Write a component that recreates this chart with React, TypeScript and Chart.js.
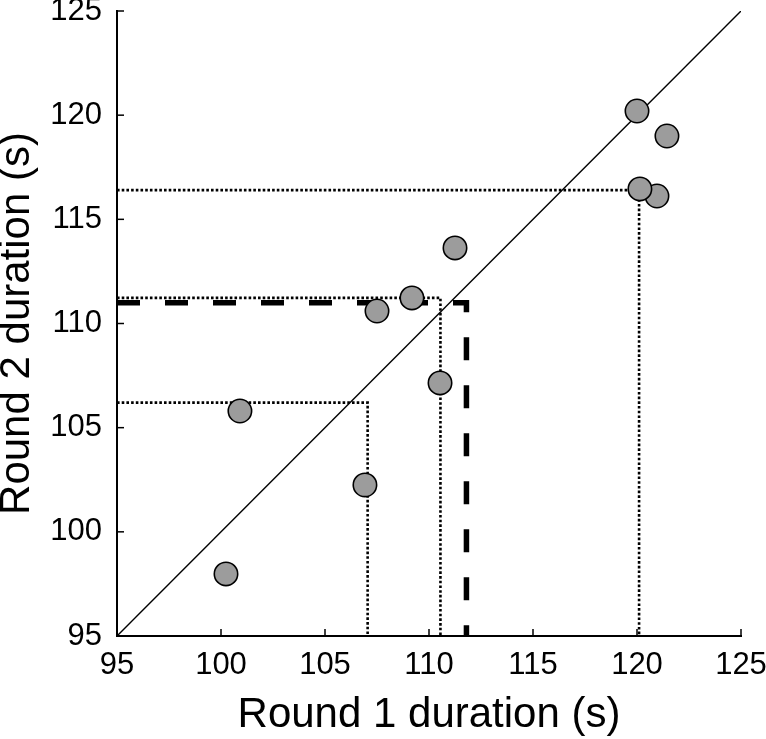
import React, { useEffect, useRef } from "react";
import { Chart, registerables } from "chart.js";

Chart.register(...registerables);

const round1: number[] = [100.24, 100.91, 106.92, 107.5, 109.18, 110.53, 111.25, 120.0, 121.44, 120.96, 120.14];
const round2: number[] = [97.98, 105.8, 102.25, 110.6, 111.23, 107.15, 113.63, 120.2, 119.0, 116.12, 116.46];

const axisMin = 95;
const axisMax = 125;
const tickStep = 5;

const identityX = [95, 125];
const identityY = [95, 125];

const dot1X = [95, 107.05, 107.05];
const dot1Y = [106.2, 106.2, 95];
const dot2X = [95, 110.55, 110.55];
const dot2Y = [111.23, 111.23, 95];
const dot3X = [95, 120.1, 120.1];
const dot3Y = [116.4, 116.4, 95];
const meanX = [95, 111.8, 111.8];
const meanY = [111.0, 111.0, 95];

const xTitle = "Round 1 duration (s)";
const yTitle = "Round 2 duration (s)";

const FONT = "'Liberation Sans', Arial, Helvetica, sans-serif";

const zip = (xs: number[], ys: number[]) => xs.map((x, i) => ({ x, y: ys[i] }));

const inwardTicks = {
  id: "inwardTicks",
  afterDraw(chart: any) {
    const { ctx, chartArea, scales } = chart;
    ctx.save();
    ctx.strokeStyle = "#000";
    ctx.lineWidth = 1.5;
    const len = 7;
    scales.x.ticks.forEach((t: any) => {
      const px = scales.x.getPixelForValue(t.value);
      ctx.beginPath();
      ctx.moveTo(px, chartArea.bottom);
      ctx.lineTo(px, chartArea.bottom - len);
      ctx.stroke();
    });
    scales.y.ticks.forEach((t: any) => {
      const py = scales.y.getPixelForValue(t.value);
      ctx.beginPath();
      ctx.moveTo(chartArea.left, py);
      ctx.lineTo(chartArea.left + len, py);
      ctx.stroke();
    });
    ctx.restore();
  },
};

export default function App() {
  const ref = useRef<HTMLCanvasElement | null>(null);
  useEffect(() => {
    if (!ref.current) return;
    const dotted = (xs: number[], ys: number[]) => ({
      type: "line" as const,
      data: zip(xs, ys),
      borderColor: "#000",
      borderWidth: 2.6,
      borderDash: [2.6, 2.1],
      pointRadius: 0,
      fill: false,
      tension: 0,
      order: 2,
    });
    const chart = new Chart(ref.current, {
      type: "scatter",
      data: {
        datasets: [
          {
            type: "scatter",
            data: zip(round1, round2),
            backgroundColor: "#9c9c9c",
            borderColor: "#000",
            borderWidth: 1.6,
            pointRadius: 11.7,
            order: 0,
          } as any,
          {
            type: "line",
            data: zip(identityX, identityY),
            borderColor: "#000",
            borderWidth: 1.4,
            pointRadius: 0,
            fill: false,
            order: 3,
          },
          dotted(dot1X, dot1Y),
          dotted(dot2X, dot2Y),
          dotted(dot3X, dot3Y),
          {
            type: "line",
            data: zip(meanX, meanY),
            borderColor: "#000",
            borderWidth: 5.5,
            borderDash: [23, 25],
            pointRadius: 0,
            fill: false,
            order: 1,
          },
        ],
      },
      options: {
        animation: false,
        responsive: false,
        devicePixelRatio: 1,
        layout: { padding: { top: 11, right: 25, left: 0, bottom: 0 }, autoPadding: false } as any,
        plugins: { legend: { display: false }, tooltip: { enabled: false } },
        scales: {
          x: {
            type: "linear",
            min: axisMin,
            max: axisMax,
            grid: { display: false, drawTicks: false },
            border: { display: true, color: "#000", width: 2 },
            ticks: {
              stepSize: tickStep,
              color: "#000",
              font: { family: FONT, size: 31 },
              padding: 11,
              autoSkip: false,
              maxRotation: 0,
            },
            title: {
              display: true,
              text: xTitle,
              color: "#000",
              font: { family: FONT, size: 42, lineHeight: 1 },
              padding: { top: 0, bottom: 2.5 },
            },
            afterFit(scale: any) {
              scale.height = 103;
              scale.paddingLeft = 0;
              scale.paddingRight = 0;
            },
          },
          y: {
            type: "linear",
            min: axisMin,
            max: axisMax,
            grid: { display: false, drawTicks: false },
            border: { display: true, color: "#000", width: 2 },
            ticks: {
              stepSize: tickStep,
              color: "#000",
              font: { family: FONT, size: 31 },
              padding: 15,
              autoSkip: false,
            },
            title: {
              display: true,
              text: yTitle,
              color: "#000",
              font: { family: FONT, size: 42, lineHeight: 0.8 },
              padding: { top: 1, bottom: 0 },
            },
            afterFit(scale: any) {
              scale.width = 117;
              scale.paddingTop = 0;
              scale.paddingBottom = 0;
            },
          },
        },
      },
      plugins: [inwardTicks],
    });
    return () => chart.destroy();
  }, []);
  return (
    <div style={{ position: "absolute", left: 0, top: 0, width: 766, height: 739, background: "#fff" }}>
      <canvas ref={ref} width={766} height={739} style={{ display: "block" }} />
    </div>
  );
}
